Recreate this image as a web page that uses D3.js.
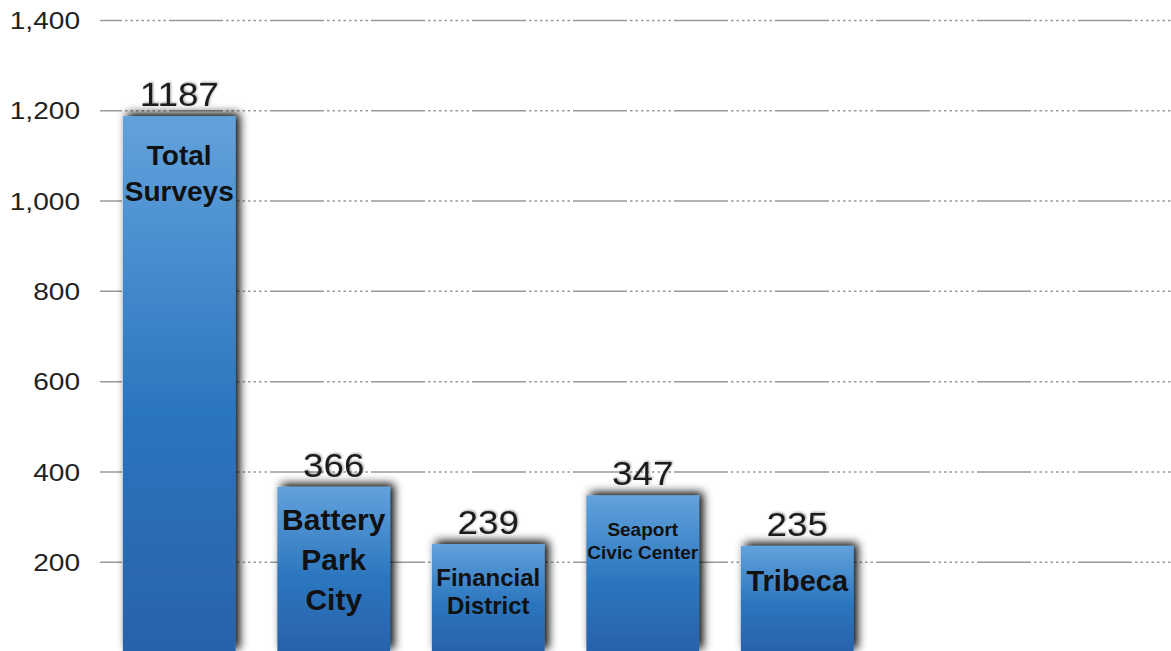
<!DOCTYPE html>
<html>
<head>
<meta charset="utf-8">
<script src="https://cdn.jsdelivr.net/npm/d3@7"></script>
<style>
  html, body { margin: 0; padding: 0; background: #fff; overflow: hidden; }
  svg { display: block; font-family: "Liberation Sans", Arial, Helvetica, sans-serif; }
</style>
</head>
<body>
<div id="chart"></div>
<script>
// data
const categories = ["Total Surveys", "Battery Park City", "Financial District", "Seaport Civic Center", "Tribeca"];
const labelLines = [["Total", "Surveys"], ["Battery", "Park", "City"], ["Financial", "District"], ["Seaport", "Civic Center"], ["Tribeca"]];
const values = [1187, 366, 239, 347, 235];
const tickValues = [200, 400, 600, 800, 1000, 1200, 1400];

// per-bar label styling (font size, line height, first line offset from bar top)
const labelStyle = [
  { size: 28, lh: 36, off: 39 },
  { size: 30, lh: 40, off: 32 },
  { size: 24, lh: 28, off: 33 },
  { size: 19, lh: 23, off: 34 },
  { size: 29, lh: 0, off: 35 }
];

const width = 1171;
const height = 651;

const svg = d3.select("#chart").append("svg")
    .attr("width", width)
    .attr("height", height);

const defs = svg.append("defs");

const grad = defs.append("linearGradient")
    .attr("id", "barGrad")
    .attr("x1", 0).attr("y1", 0).attr("x2", 0).attr("y2", 1);
grad.append("stop").attr("offset", "0%").attr("stop-color", "#62a2dc");
grad.append("stop").attr("offset", "55%").attr("stop-color", "#2b76be");
grad.append("stop").attr("offset", "100%").attr("stop-color", "#2862ab");

const shadow = defs.append("filter")
    .attr("id", "barShadow")
    .attr("x", "-30%").attr("y", "-30%").attr("width", "160%").attr("height", "160%");
shadow.append("feDropShadow")
    .attr("dx", 4).attr("dy", -3)
    .attr("stdDeviation", 5)
    .attr("flood-color", "#000")
    .attr("flood-opacity", 1);

const textShadow = defs.append("filter")
    .attr("id", "textShadow")
    .attr("x", "-20%").attr("y", "-30%").attr("width", "140%").attr("height", "160%");
textShadow.append("feDropShadow")
    .attr("dx", 1).attr("dy", -1)
    .attr("stdDeviation", 1.2)
    .attr("flood-color", "#000")
    .attr("flood-opacity", 0.35);

// scales
const x = d3.scaleBand()
    .domain(categories)
    .range([102, 874.5])
    .paddingInner(0.27)
    .paddingOuter(0.135);

const y = d3.scaleLinear()
    .domain([0, 1400])
    .range([652, 20]);

// y axis with dotted/solid grid lines
const axis = svg.append("g")
    .attr("transform", "translate(100,0)")
    .call(d3.axisLeft(y)
        .tickValues(tickValues)
        .tickSize(-(width - 100))
        .tickFormat(d3.format(",")));

axis.select(".domain").remove();

const dots = [];
for (let i = 0; i < 8; i++) dots.push(2.5, 3);
axis.selectAll(".tick line")
    .attr("stroke", "#999")
    .attr("stroke-width", 1.5)
    .attr("stroke-dasharray", [54, 3].concat(dots).join(","))
    .attr("stroke-dashoffset", 32);

axis.selectAll(".tick text")
    .attr("x", 0)
    .attr("dy", "0.36em")
    .attr("transform", "translate(-20,0) scale(1.17,1)")
    .attr("fill", "#222")
    .attr("font-size", 24)
    .attr("font-family", "\"Liberation Sans\", Arial, Helvetica, sans-serif")
    .attr("text-anchor", "end");

// bars
const bars = svg.append("g");

bars.selectAll("rect")
    .data(values)
    .enter()
    .append("rect")
    .attr("x", (d, i) => x(categories[i]))
    .attr("y", d => y(d))
    .attr("width", x.bandwidth())
    .attr("height", d => y(0) - y(d))
    .attr("fill", "url(#barGrad)")
    .attr("filter", "url(#barShadow)");

// value labels
svg.append("g")
    .selectAll("text")
    .data(values)
    .enter()
    .append("text")
    .attr("transform", (d, i) =>
        "translate(" + (x(categories[i]) + x.bandwidth() / 2) + "," + (y(d) - 10) + ") scale(1.08,1)")
    .attr("text-anchor", "middle")
    .attr("font-size", 34)
    .attr("fill", "#1e1e1e")
    .attr("filter", "url(#textShadow)")
    .text(d => d);

// labels inside bars
const inner = svg.append("g");
labelLines.forEach((lines, i) => {
    const st = labelStyle[i];
    const cx = x(categories[i]) + x.bandwidth() / 2;
    const top = y(values[i]);
    lines.forEach((line, j) => {
        inner.append("text")
            .attr("x", cx)
            .attr("y", top + st.off + j * st.lh)
            .attr("dy", "0.36em")
            .attr("text-anchor", "middle")
            .attr("font-size", st.size)
            .attr("font-weight", "bold")
            .attr("fill", "#111")
            .text(line);
    });
});
</script>
</body>
</html>
